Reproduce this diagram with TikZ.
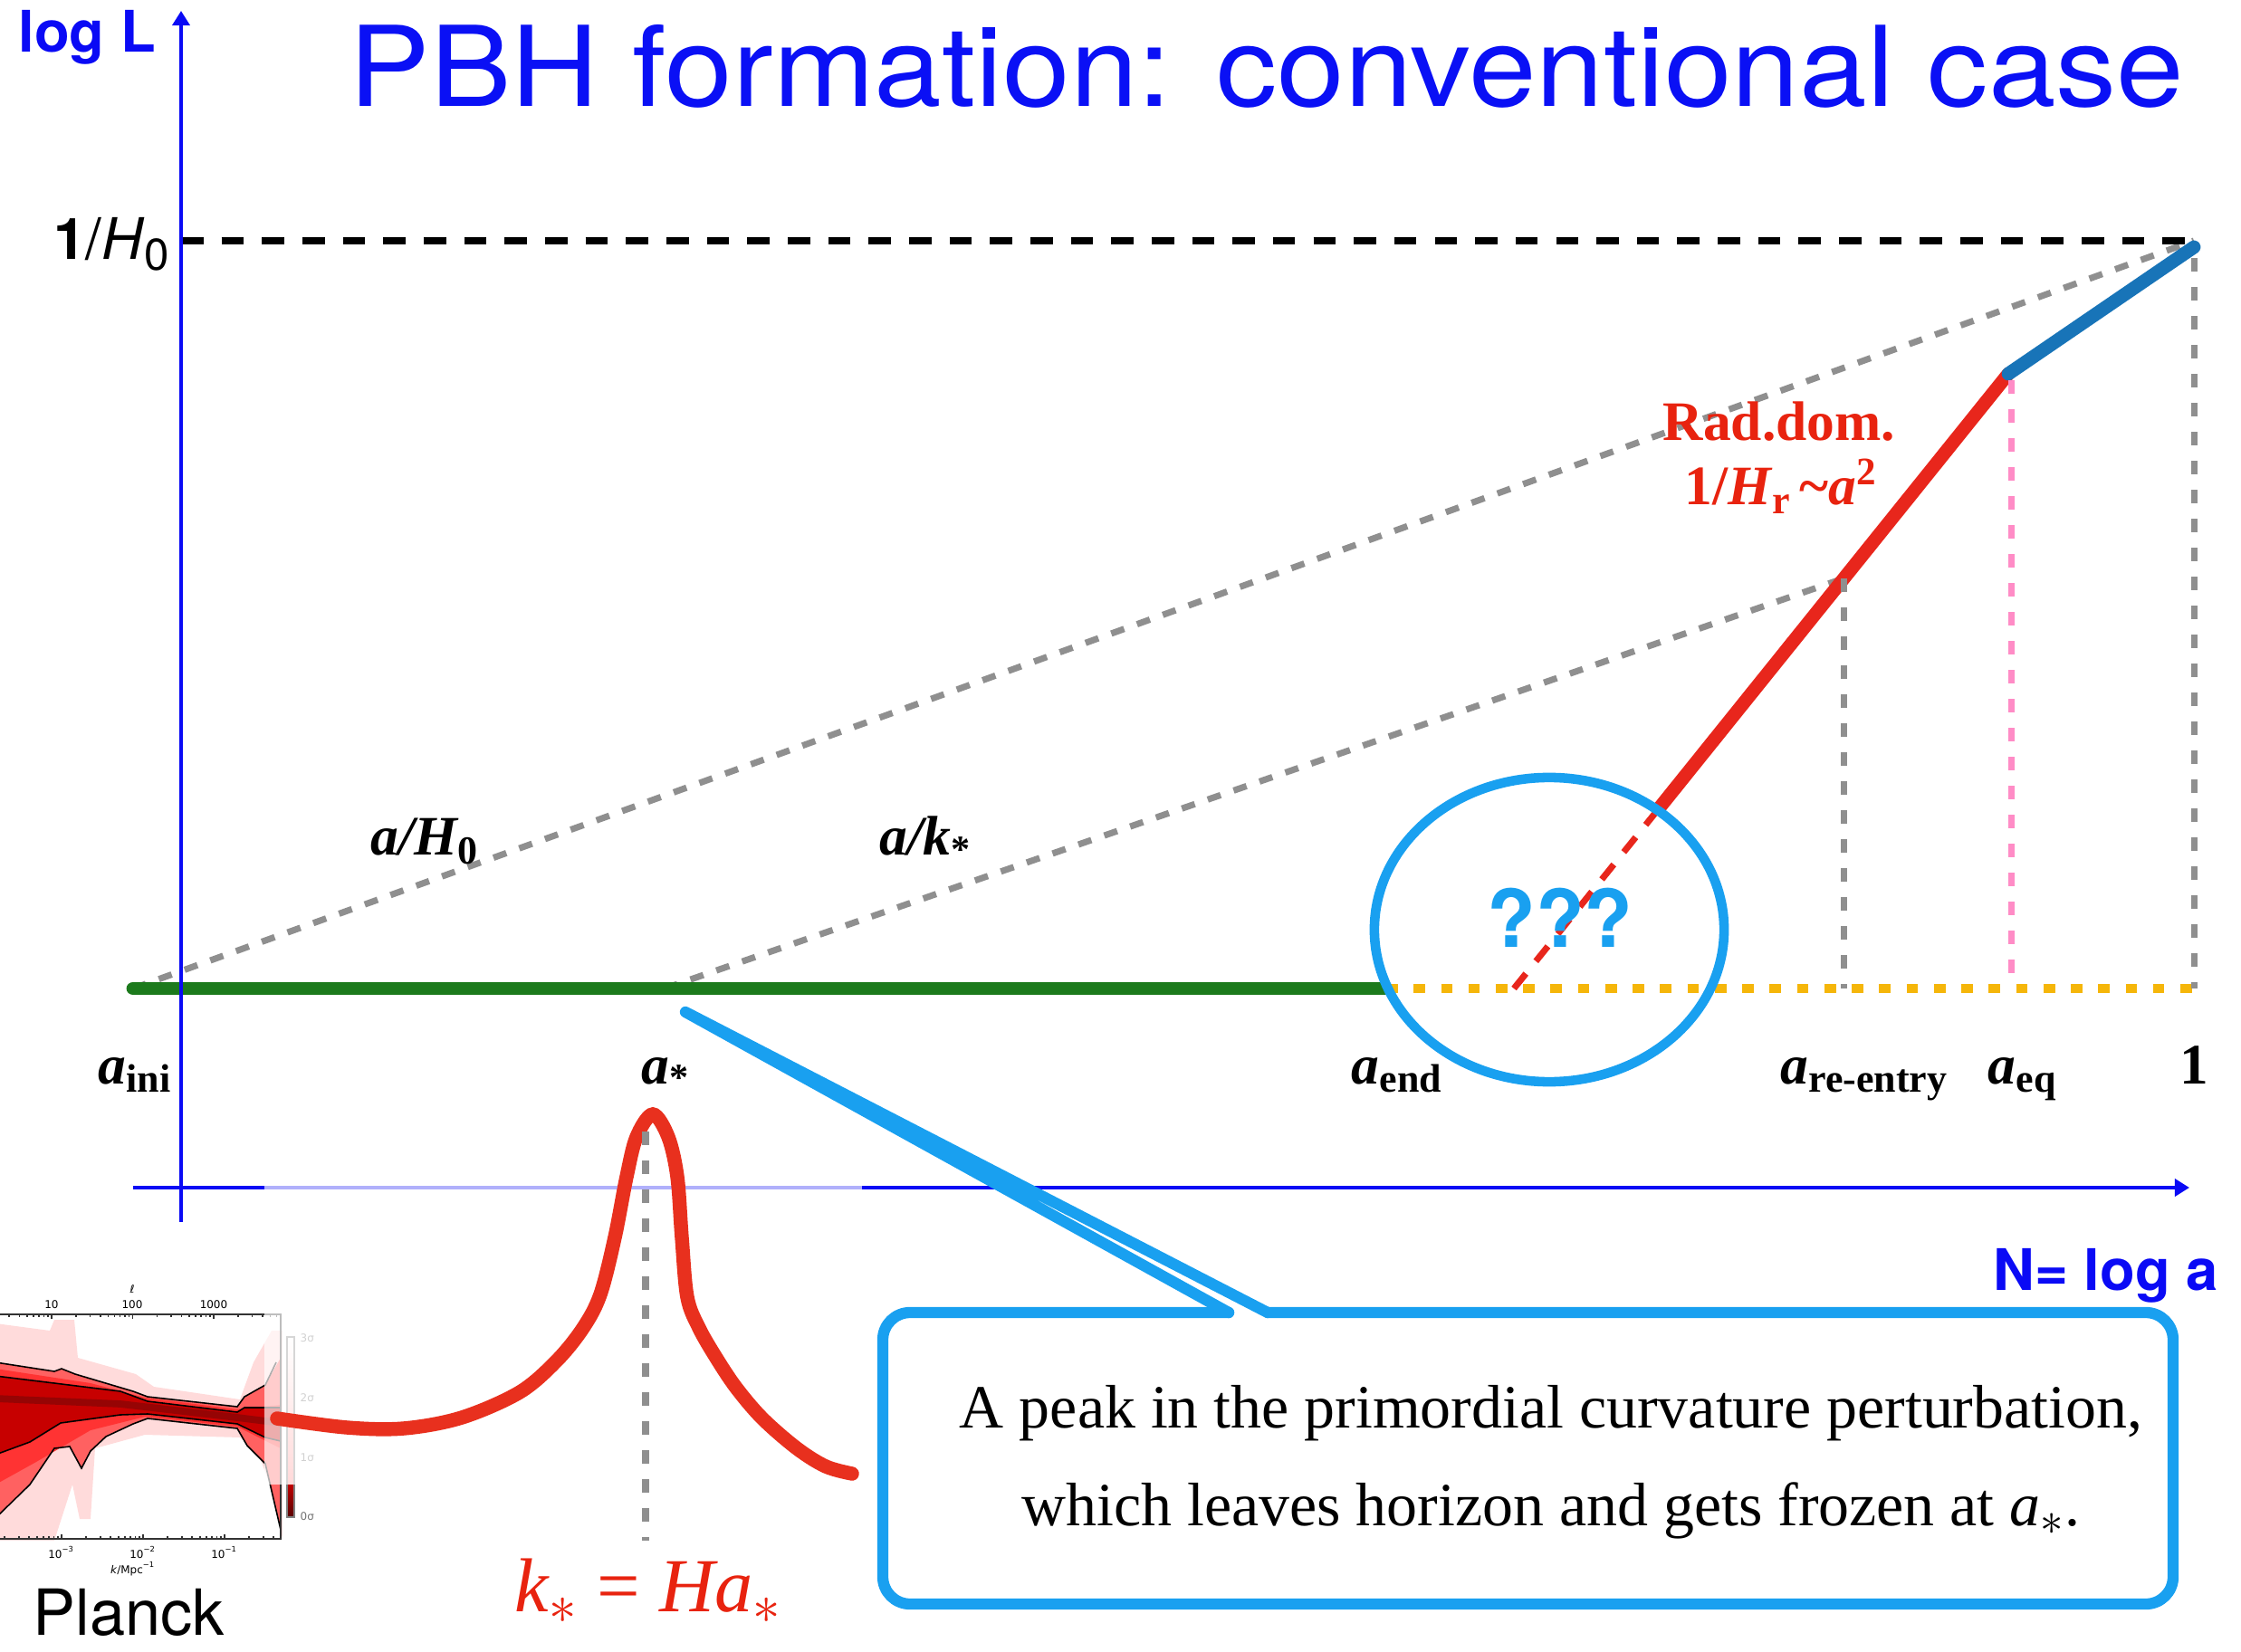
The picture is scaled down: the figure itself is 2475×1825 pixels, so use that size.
\documentclass[tikz,border=0pt]{standalone}
\usepackage{fontspec}
\setmainfont{Liberation Serif}
\setsansfont{TeX Gyre Heros}
\newfontfamily\insetfont{DejaVu Sans}
\usepackage{graphicx}
\usetikzlibrary{arrows.meta,shapes.geometric}
\definecolor{axisblue}{HTML}{0A0AF5}
\definecolor{titleblue}{HTML}{0A10F5}
\definecolor{dgreen}{HTML}{1C7A1C}
\definecolor{dgray}{HTML}{8F8F8F}
\definecolor{gold}{HTML}{F5B60A}
\definecolor{pinkd}{HTML}{FF8CC6}
\definecolor{radred}{HTML}{E8261C}
\definecolor{steel}{HTML}{1874B8}
\definecolor{sky}{HTML}{19A0F0}
\definecolor{peakred}{HTML}{E8301E}
\definecolor{labred}{HTML}{E8230F}
\definecolor{darkcore}{HTML}{8A0505}
\newcommand{\labsub}[1]{\raisebox{-0.35ex}{\fontsize{12.5}{13}\selectfont\upshape\bfseries #1}}
\newcommand{\labstar}{\raisebox{-2pt}{\fontsize{12}{12}\selectfont\upshape\bfseries *}}
\tikzset{
  axisline/.style={draw=axisblue, line width=1.4pt},
  graydash/.style={draw=dgray, line width=2pt, dash pattern=on 4.3pt off 4.3pt},
  grayvert/.style={draw=dgray, line width=2pt, dash pattern=on 4.3pt off 4.8pt},
  blackdash/.style={draw=black, line width=2.2pt, dash pattern=on 7pt off 5.7pt},
  thickline/.style={line width=4.2pt, line cap=round},
  callout/.style={draw=sky, line width=3.5pt, line cap=round, line join=round},
  alab/.style={inner sep=0pt, anchor=base west, font=\fontsize{17.5}{20}\selectfont\bfseries\itshape},
  insetlab/.style={inner sep=0pt, font=\insetfont\fontsize{3.4}{4}\selectfont},
  sigmalab/.style={inner sep=0pt, anchor=west, text=black!55, font=\insetfont\fontsize{3.4}{4}\selectfont},
  boxtext/.style={inner sep=0pt, anchor=base, font=\fontsize{19.3}{22}\selectfont},
}
\begin{document}
\begin{tikzpicture}[x=0.01cm,y=-0.01cm]
\useasboundingbox (0,0) rectangle (2475,1825);
% ---------- key points ----------
\coordinate (ini) at (147,1092);
\coordinate (astar) at (734,1092);
\coordinate (aend) at (1531,1092);
\coordinate (rdstart) at (1672,1092);
\coordinate (rdsolid) at (1833,892);
\coordinate (reentry) at (2036,639);
\coordinate (reentryb) at (2036,1092);
\coordinate (eq) at (2218,413);
\coordinate (eqtop) at (2221,420);
\coordinate (eqb) at (2221,1092);
\coordinate (today) at (2423,266);
\coordinate (todayblue) at (2423,273);
\coordinate (todaytop) at (2423,285);
\coordinate (todayb) at (2423,1092);
\coordinate (hzero) at (200,266);
\coordinate (ybot) at (200,1350);
\coordinate (ytop) at (200,12);
\coordinate (xleft) at (147,1312);
\coordinate (xright) at (2418,1312);
% ---------- dashed guide lines ----------
\draw[graydash] (ini) -- (today);
\draw[graydash] (astar) -- (reentry);
\draw[blackdash] (hzero) -- (today);
% ---------- horizon curve ----------
\draw[dgreen, thickline] (ini) -- (aend);
\draw[gold, line width=2.8pt, dash pattern=on 3.6pt off 5pt] (aend) -- (todayb);
\draw[radred, line width=2pt, dash pattern=on 6pt off 5pt] (rdstart) -- (rdsolid);
\draw[radred, thickline] (rdsolid) -- (eq);
\draw[steel, thickline] (eq) -- (todayblue);
\draw[pinkd, line width=2pt, dash pattern=on 4.3pt off 4.8pt] (eqtop) -- (eqb);
\draw[grayvert] (reentry) -- (reentryb);
\draw[grayvert] (todaytop) -- (todayb);
% ---------- axes ----------
\draw[axisline, -{Triangle[length=4.6pt, width=5.4pt]}] (ybot) -- (ytop);
\draw[axisline, -{Triangle[length=4.6pt, width=5.4pt]}] (xleft) -- (xright);
% ---------- Planck inset ----------
\begin{scope}
\clip (0,1440) rectangle (312,1702);
\fill[red!14] (-5,1462) -- (55,1470) -- (60,1458) -- (82,1458) -- (86,1500) -- (150,1518) -- (170,1532) -- (265,1546) -- (280,1505) -- (300,1470) -- (312,1470) -- (312,1700) -- (300,1645) -- (285,1605) -- (265,1588) -- (160,1585) -- (105,1600) -- (100,1678) -- (88,1678) -- (80,1640) -- (60,1702) -- (-5,1702) -- cycle;
\fill[red!62] (-5,1505) -- (60,1515) -- (68,1512) -- (83,1518) -- (147,1537) -- (163,1543) -- (262,1554) -- (270,1543) -- (293,1530) -- (310,1500) -- (310,1690) -- (293,1617) -- (273,1597) -- (262,1578) -- (163,1567) -- (147,1573) -- (117,1587) -- (100,1603) -- (90,1622) -- (77,1598) -- (60,1600) -- (33,1640) -- (-5,1677) -- cycle;
\fill[red!80] (-5,1512) -- (100,1528) -- (160,1544) -- (262,1557) -- (310,1552) -- (310,1600) -- (262,1576) -- (160,1565) -- (100,1580) -- (40,1615) -- (-5,1640) -- cycle;
\fill[red!78!black] (-5,1520) -- (133,1537) -- (163,1548) -- (262,1560) -- (270,1555) -- (310,1555) -- (310,1592) -- (293,1588) -- (262,1573) -- (163,1562) -- (133,1563) -- (67,1572) -- (33,1593) -- (-5,1607) -- cycle;
\draw[darkcore, line width=2.2pt, opacity=0.8] (-5,1545) -- (133,1551) -- (262,1566) -- (310,1572);
\draw[black, line width=0.45pt] (-5,1505) -- (60,1515) -- (68,1512) -- (83,1518) -- (147,1537) -- (163,1543) -- (262,1554) -- (270,1543) -- (293,1530) -- (305,1505);
\draw[black, line width=0.45pt] (-5,1520) -- (133,1537) -- (163,1548) -- (262,1560) -- (270,1555) -- (310,1555);
\draw[black, line width=0.45pt] (-5,1607) -- (33,1593) -- (67,1572) -- (133,1563) -- (163,1562) -- (262,1573) -- (293,1588) -- (310,1592);
\draw[black, line width=0.45pt] (-5,1677) -- (33,1640) -- (60,1600) -- (77,1598) -- (90,1622) -- (100,1603) -- (117,1587) -- (147,1573) -- (163,1567) -- (262,1578) -- (273,1597) -- (293,1617) -- (310,1690);
\end{scope}
\draw[black!80, line width=0.6pt] (0,1452) -- (310,1452) -- (310,1700) -- (0,1700);
\foreach \d in {-32.5,57,146.5,236}{
  \draw[black!80, line width=0.5pt] (\d,1452) -- ++(0,5);
  \foreach \m in {2,...,9}{
    \pgfmathsetmacro\xx{\d+89.5*log10(\m)}
    \pgfmathparse{(\xx>0)&&(\xx<309)}
    \ifnum\pgfmathresult=1 \draw[black!80, line width=0.4pt] (\xx,1452) -- ++(0,3); \fi
  }}
\foreach \d in {-22,68,158,248}{
  \draw[black!80, line width=0.5pt] (\d,1700) -- ++(0,-5);
  \foreach \m in {2,...,9}{
    \pgfmathsetmacro\xx{\d+90*log10(\m)}
    \pgfmathparse{(\xx>0)&&(\xx<309)}
    \ifnum\pgfmathresult=1 \draw[black!80, line width=0.4pt] (\xx,1700) -- ++(0,-3); \fi
  }}
\node[insetlab] (l10) at (57,1441) {10};
\node[insetlab] (l100) at (146,1441) {100};
\node[insetlab] (l1000) at (236,1441) {1000};
\node[insetlab] (lell) at (146,1424) {\textit{ℓ}};
\node[insetlab] (km3) at (68,1715) {10\textsuperscript{−3}};
\node[insetlab] (km2) at (158,1715) {10\textsuperscript{−2}};
\node[insetlab] (km1) at (248,1715) {10\textsuperscript{−1}};
\node[insetlab] (kmpc) at (147,1733) {\textit{k}/Mpc\textsuperscript{−1}};
\shade[top color=white, bottom color=red!45] (317,1477) rectangle (325,1640);
\shade[top color=red!75!black, bottom color=red!35!black] (317,1640) rectangle (325,1676);
\draw[black!50, line width=0.4pt] (317,1477) rectangle (325,1676);
\node[sigmalab] (s3) at (331,1478) {3σ};
\node[sigmalab] (s2) at (331,1544) {2σ};
\node[sigmalab] (s1) at (331,1610) {1σ};
\node[sigmalab] (s0) at (331,1675) {0σ};
% white translucent background of the peak picture
\fill[white, opacity=0.68] (292,1298) rectangle (952,1640);
% ---------- peak ----------
\draw[peakred, line width=4.4pt, line cap=round] plot[smooth, tension=0.55] coordinates {(306,1567) (383,1577) (446,1578) (510,1566) (574,1538) (615,1503) (644,1467) (663,1430) (679,1367) (692,1300) (703,1256) (721,1231) (738,1256) (748,1300) (753,1367) (759,1433) (772,1467) (791,1500) (813,1533) (842,1567) (880,1600) (912,1620) (941,1628)};
\coordinate (pk) at (713,1250);
\coordinate (pkb) at (713,1702);
\draw[grayvert] (pk) -- (pkb);
% ---------- callout ----------
\coordinate (apex) at (757,1118);
\coordinate (bl) at (1357,1450);
\coordinate (br) at (1400,1450);
\draw[callout] (bl) -- (apex) -- (br);
\draw[callout, rounded corners=0.3cm] (br) -- (2400,1450) -- (2400,1772) -- (975,1772) -- (975,1450) -- (bl);
\node[boxtext] (t1) at (1713,1577) {A peak in the primordial curvature perturbation,};
\node[boxtext] (t2) at (1713,1685) {which leaves horizon and gets frozen at \textit{a}$_*$.};
% ---------- ellipse ----------
\node[ellipse, draw=sky, line width=3pt, minimum width=3.86cm, minimum height=3.36cm, inner sep=0pt] (qq) at (1711,1027) {};
\node[inner sep=0pt, anchor=base, text=sky, font=\sffamily\bfseries\fontsize{25}{28}\selectfont] (qm) at (1723,1047) {???};
% ---------- texts ----------
\node[inner sep=0pt, anchor=base west, text=titleblue] (title) at (385,118) {\resizebox{20.25cm}{0.90cm}{\sffamily PBH formation: conventional case}};
\node[inner sep=0pt, anchor=base west, text=axisblue, font=\sffamily\bfseries\fontsize{18}{20}\selectfont] (logL) at (20,58) {log L};
\node[inner sep=0pt, anchor=base west, text=axisblue, font=\sffamily\bfseries\fontsize{18}{20}\selectfont] (Nlog) at (2201,1425) {N= log a};
\node[inner sep=0pt, anchor=base east, font=\sffamily\fontsize{18}{20}\selectfont] (hlab) at (188,287) {\textbf{1}/\textit{H}\raisebox{-0.35ex}{\fontsize{14}{14}\selectfont 0}};
\node[inner sep=0pt, anchor=base west, font=\sffamily\fontsize{20}{22}\selectfont] (planck) at (36,1806) {Planck};
\node[inner sep=0pt, anchor=base, text=labred, font=\fontsize{24}{26}\selectfont] (kha) at (716,1780) {\textit{k}$_*$ = \textit{Ha}$_*$};
\node[alab] (aH) at (409,945) {a/H\labsub{0}};
\node[alab] (ak) at (971,945) {a/k\labstar};
\node[alab] (lini) at (108,1197) {a\labsub{ini}};
\node[alab] (lstar) at (708,1197) {a\labstar};
\node[alab] (lend) at (1492,1197) {a\labsub{end}};
\node[alab] (lre) at (1966,1197) {a\labsub{re-entry}};
\node[alab] (leq) at (2195,1197) {a\labsub{eq}};
\node[inner sep=0pt, anchor=base, font=\fontsize{18}{20}\selectfont\bfseries] (lone) at (2423,1197) {1};
\node[inner sep=0pt, anchor=base, text=labred, font=\fontsize{17.5}{20}\selectfont\bfseries] (rad1) at (1965,487) {Rad.dom.};
\node[inner sep=0pt, anchor=base, text=labred, font=\fontsize{17.5}{20}\selectfont\bfseries] (rad2) at (1967,558) {1/\textit{H}\raisebox{-0.35ex}{\fontsize{12.5}{13}\selectfont r}\,\textasciitilde\textit{a}\textsuperscript{2}};
\end{tikzpicture}
\end{document}
